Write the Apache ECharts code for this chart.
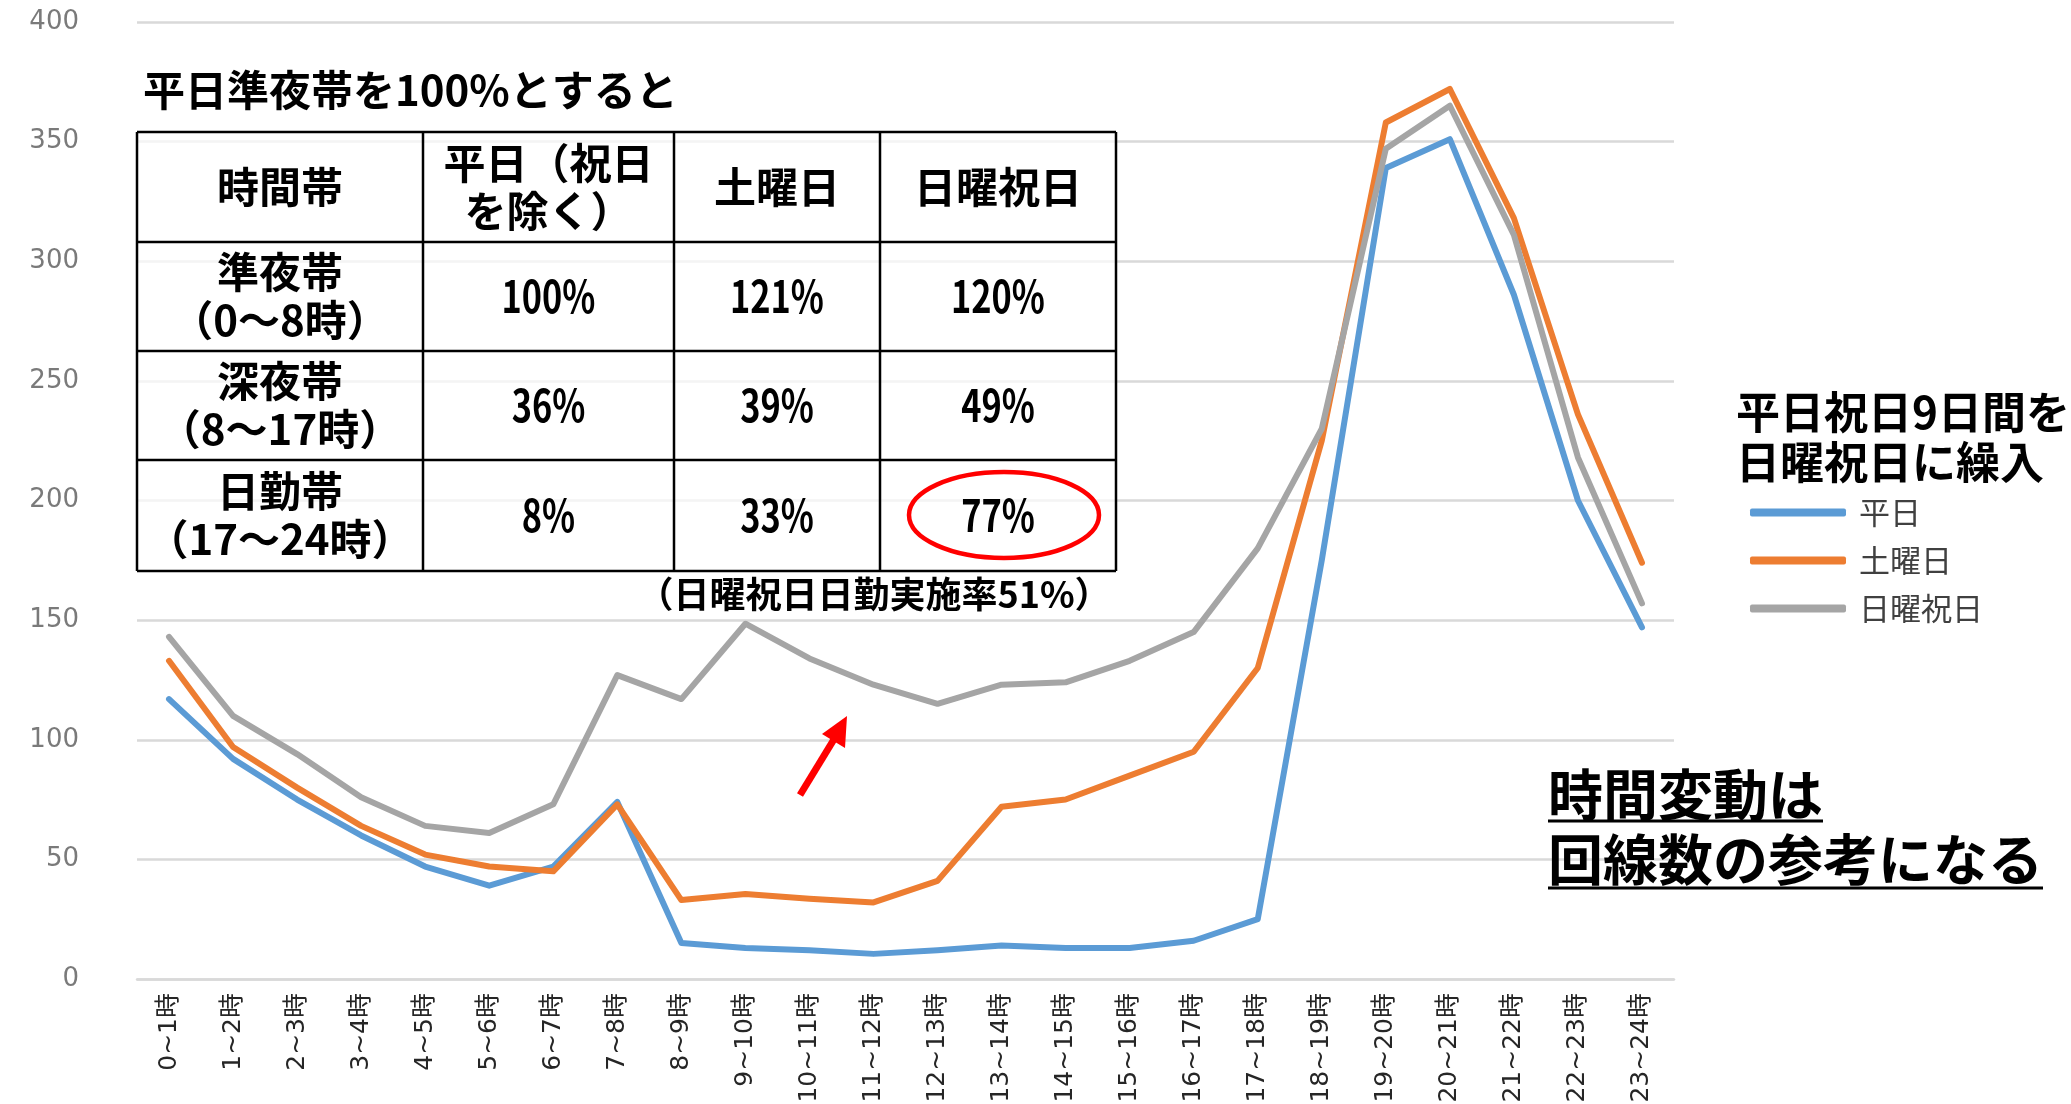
<!DOCTYPE html>
<html lang="ja">
<head>
<meta charset="utf-8">
<title>時間帯別回線数</title>
<script src="https://cdn.jsdelivr.net/npm/echarts@6/dist/echarts.min.js"></script>
<style>
  html, body { margin: 0; padding: 0; background: #fff; }
  #chart { width: 2071px; height: 1104px; }
</style>
</head>
<body>
<div id="chart"></div>
<script>
// data
const hourLabels = [
  '0~1時', '1~2時', '2~3時', '3~4時', '4~5時', '5~6時', '6~7時', '7~8時',
  '8~9時', '9~10時', '10~11時', '11~12時', '12~13時', '13~14時', '14~15時', '15~16時',
  '16~17時', '17~18時', '18~19時', '19~20時', '20~21時', '21~22時', '22~23時', '23~24時'
]
const weekdayValues = [117, 92, 75, 60, 47, 39, 47, 74, 15, 13, 12, 10.5, 12, 14, 13, 13, 16, 25, 175, 339, 351, 286, 200, 147]
const saturdayValues = [133, 97, 80, 64, 52, 47, 45, 73, 33, 35.5, 33.5, 32, 41, 72, 75, 85, 95, 130, 225, 358, 372, 318, 236, 174]
const sundayValues = [143, 110, 94, 76, 64, 61, 73, 127, 117, 148.5, 134, 123, 115, 123, 124, 133, 145, 180, 230, 347, 365, 311, 218, 157]
const seriesNames = ['平日', '土曜日', '日曜祝日']

const tableHeader = ['時間帯', '平日（祝日\nを除く）', '土曜日', '日曜祝日']
const tableBands = ['準夜帯\n（0～8時）', '深夜帯\n（8～17時）', '日勤帯\n（17～24時）']
const tableWeekday = ['100%', '36%', '8%']
const tableSaturday = ['121%', '39%', '33%']
const tableSunday = ['120%', '49%', '77%']

const tableTitle = '平日準夜帯を100%とすると'
const tableNote = '（日曜祝日日勤実施率51%）'
const sideNote = ['平日祝日9日間を', '日曜祝日に繰入']
const conclusion = ['時間変動は', '回線数の参考になる']

const COLORS = ['#5b9bd5', '#ed7d31', '#a5a5a5']
const JP = '"Noto Sans CJK JP", "Noto Sans CJK SC", sans-serif'

// table layout
const colX = [137, 423, 674, 880, 1116]
const rowY = [132, 242, 351, 460, 571]

function textWidth(text, font) {
  const ctx = document.createElement('canvas').getContext('2d')
  ctx.font = font
  return ctx.measureText(text).width
}

// numbers in the table are set in a condensed face, so squeeze them
function cellText(text, col, row, squeeze) {
  return {
    type: 'text',
    z: 10,
    x: (colX[col] + colX[col + 1]) / 2,
    y: (rowY[row] + rowY[row + 1]) / 2,
    scaleX: squeeze ? 0.78 : 1,
    style: {
      text,
      x: 0,
      y: 0,
      fill: '#000',
      fontSize: squeeze ? 44 : 42,
      fontWeight: 'bold',
      fontFamily: JP,
      lineHeight: 48,
      align: 'center',
      verticalAlign: 'middle',
    },
  }
}

function buildGraphics() {
  const g = []
  g.push({
    type: 'rect',
    z: 9,
    shape: { x: colX[0], y: rowY[0], width: colX[4] - colX[0], height: rowY[4] - rowY[0] },
    style: { fill: 'rgba(255,255,255,0.7)' },
  })
  rowY.forEach((y) => {
    g.push({ type: 'line', z: 10, shape: { x1: colX[0], y1: y, x2: colX[4], y2: y }, style: { stroke: '#000', lineWidth: 2.5 } })
  })
  colX.forEach((x) => {
    g.push({ type: 'line', z: 10, shape: { x1: x, y1: rowY[0], x2: x, y2: rowY[4] }, style: { stroke: '#000', lineWidth: 2.5 } })
  })
  tableHeader.forEach((t, i) => g.push(cellText(t, i, 0)))
  tableBands.forEach((t, r) => {
    g.push(cellText(t, 0, r + 1))
    g.push(cellText(tableWeekday[r], 1, r + 1, true))
    g.push(cellText(tableSaturday[r], 2, r + 1, true))
    g.push(cellText(tableSunday[r], 3, r + 1, true))
  })

  // title above table and note below it
  g.push({
    type: 'text', z: 10,
    style: { text: tableTitle, x: 143, y: 90, fill: '#000', fontSize: 42, fontWeight: 'bold', fontFamily: JP, align: 'left', verticalAlign: 'middle' },
  })
  g.push({
    type: 'text', z: 10,
    style: { text: tableNote, x: 874, y: 594, fill: '#000', fontSize: 36, fontWeight: 'bold', fontFamily: JP, align: 'center', verticalAlign: 'middle' },
  })

  // red ellipse round 77%
  g.push({
    type: 'ellipse', z: 11,
    shape: { cx: 1004, cy: 515, rx: 95, ry: 43 },
    style: { fill: 'none', stroke: '#ff0000', lineWidth: 4.5 },
  })

  // red arrow
  g.push({
    type: 'line', z: 11,
    shape: { x1: 800, y1: 795, x2: 836, y2: 736 },
    style: { stroke: '#ff0000', lineWidth: 7 },
  })
  g.push({
    type: 'polygon', z: 11,
    shape: { points: [[847, 716], [845, 748], [822, 734]] },
    style: { fill: '#ff0000' },
  })

  // side note above legend
  sideNote.forEach((t, i) => {
    g.push({
      type: 'text', z: 10,
      style: { text: t, x: 1736, y: 412 + i * 50, fill: '#000', fontSize: 44, fontWeight: 'bold', fontFamily: JP, align: 'left', verticalAlign: 'middle' },
    })
  })

  // underlined conclusion
  const cFont = 'bold 55px "Noto Sans CJK JP"'
  const cY = [794, 859]
  const uY = [821, 888]
  conclusion.forEach((t, i) => {
    g.push({
      type: 'text', z: 10,
      style: { text: t, x: 1548, y: cY[i], fill: '#000', fontSize: 55, fontWeight: 'bold', fontFamily: JP, align: 'left', verticalAlign: 'middle' },
    })
    const w = textWidth(t, cFont)
    g.push({ type: 'line', z: 10, shape: { x1: 1548, y1: uY[i], x2: 1548 + w, y2: uY[i] }, style: { stroke: '#000', lineWidth: 3 } })
  })
  return g
}

const chart = echarts.init(document.getElementById('chart'), null, { renderer: 'canvas' })

chart.setOption({
  animation: false,
  backgroundColor: '#fff',
  color: COLORS,
  grid: { left: 137, right: 397, top: 22, bottom: 125, containLabel: false, outerBoundsMode: 'none' },
  legend: {
    orient: 'vertical',
    left: 1745,
    top: 492,
    itemWidth: 96,
    itemHeight: 8,
    itemGap: 17,
    icon: 'roundRect',
    data: seriesNames,
    textStyle: { color: '#404040', fontSize: 31, lineHeight: 31, fontFamily: JP, padding: [0, 0, 0, 8] },
  },
  xAxis: {
    type: 'category',
    data: hourLabels,
    boundaryGap: true,
    axisLine: { lineStyle: { color: '#d9d9d9', width: 2.5 } },
    axisTick: { show: false },
    axisLabel: {
      rotate: 90,
      interval: 0,
      margin: 14,
      color: '#262626',
      fontSize: 25,
      fontFamily: '"DejaVu Sans", "Noto Sans CJK JP", sans-serif',
    },
  },
  yAxis: {
    type: 'value',
    min: 0,
    max: 400,
    interval: 50,
    axisLine: { show: false },
    axisTick: { show: false },
    splitLine: { lineStyle: { color: '#d9d9d9', width: 2.5 } },
    axisLabel: {
      margin: 58,
      color: '#7a7a7a',
      fontSize: 26,
      fontFamily: '"DejaVu Sans", sans-serif',
    },
  },
  series: [weekdayValues, saturdayValues, sundayValues].map((values, i) => ({
    name: seriesNames[i],
    type: 'line',
    data: values,
    symbol: 'none',
    lineStyle: { width: 6, cap: 'round', join: 'round' },
  })),
  graphic: buildGraphics(),
})
</script>
</body>
</html>
